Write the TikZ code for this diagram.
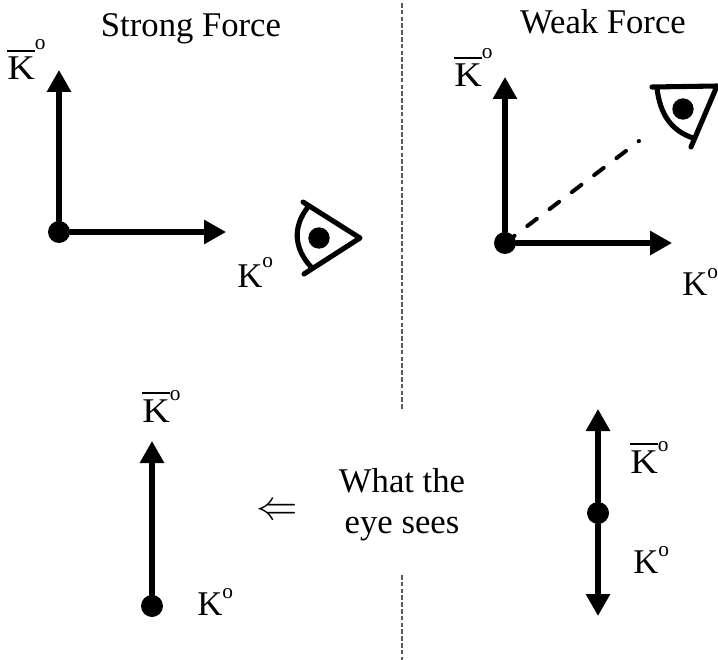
\documentclass[tikz,border=0pt]{standalone}
\usepackage{fontspec}
\setmainfont{Liberation Serif}
\usetikzlibrary{arrows.meta}
\newcommand{\kzero}[1][12.5pt]{K\raisebox{#1}{\fontsize{16}{16}\selectfont o}}
\newcommand{\kbar}[1][16pt]{\rlap{\raisebox{20.8pt}{\rule{21pt}{2pt}}}\scalebox{1.1}[1]{K}\raisebox{#1}{\fontsize{16}{16}\selectfont o}}
\tikzset{
	axis/.style={line width=3.8pt,-{Triangle[length=16.5pt,width=17.5pt]}},
	dot/.style={circle,fill=black,inner sep=0pt,minimum size=16.5pt},
	pupil/.style={circle,fill=black,inner sep=0pt,minimum size=16pt},
	lid/.style={line width=3.8pt},
	divider/.style={line width=1.2pt,gray!70!black,dash pattern=on 3.5pt off 1.6pt,line cap=butt},
	label/.style={font=\fontsize{26}{31}\selectfont,inner sep=0pt},
	title/.style={font=\fontsize{26}{27}\selectfont,inner sep=0pt,anchor=base}
}
\begin{document}
\begin{tikzpicture}[line join = round, line cap=round,x=0.75pt,y=-0.75pt]
	\useasboundingbox (0,0) rectangle (718,660);
	
	\path
	(402,3) coordinate (D1)
	(402,410) coordinate (D2)
	(402,575) coordinate (D3)
	(402,660) coordinate (D4)
	(59,70) coordinate (SU)
	(226,232) coordinate (SR)
	(505,77) coordinate (WU)
	(672,243) coordinate (WR)
	(639,141) coordinate (WE)
	(152,441) coordinate (LU)
	(598,409) coordinate (RU)
	(598,616) coordinate (RD);
	
	\draw[divider] (D1) -- (D2);
	\draw[divider] (D3) -- (D4);
	
	\node[title] (strong) at (191,37) {Strong Force};
	\node[title] (weak) at (603,34) {Weak Force};
	\node[label,align=center] (what) at (402,505) {What the\\eye sees};
	\node[inner sep=0pt] (imp) at (277,512) {\scalebox{3.1}{$\Leftarrow$}};
	
	% top left
	\node[dot] (S) at (59,232) {};
	\draw[axis] (S) -- (SU);
	\draw[axis] (S) -- (SR);
	\node[label,anchor=base west] (Sbar) at (7,80) {\kbar[23pt]};
	\node[label,anchor=base west] (Sk) at (237,287) {\kzero[14.5pt]};
	
	% top right
	\node[dot] (W) at (505,243) {};
	\draw[axis] (W) -- (WU);
	\draw[axis] (W) -- (WR);
	\draw[line width=3pt,dash pattern=on 9pt off 12pt,dash phase=8.7pt] (WE) -- (W);
	\node[label,anchor=base west] (Wbar) at (454,87) {\kbar[21pt]};
	\node[label,anchor=base west] (Wk) at (682,295) {\kzero};
	
	% bottom left
	\node[dot] (L) at (152,606) {};
	\draw[axis] (L) -- (LU);
	\node[label,anchor=base west] (Lbar) at (142,422) {\kbar};
	\node[label,anchor=base west] (Lk) at (197,615) {\kzero};
	
	% bottom right
	\node[dot] (R) at (598,513) {};
	\draw[axis] (R) -- (RU);
	\draw[axis] (R) -- (RD);
	\node[label,anchor=base west] (Rbar) at (630,473) {\kbar};
	\node[label,anchor=base west] (Rk) at (633,573) {\kzero};
	
	% eyes
	\node[pupil] (P1) at (319,238) {};
	\draw[lid] (303,202) -- (360,238) -- (304,274);
	\draw[lid] (308,207) .. controls (293,226) and (293,248) .. (312,268);
	
	\node[pupil] (P2) at (683,109) {};
	\draw[lid] (652,87) -- (717,86) -- (691,147);
	\draw[lid] (657,88) .. controls (660,115) and (672,131) .. (693,138);
\end{tikzpicture}
\end{document}
